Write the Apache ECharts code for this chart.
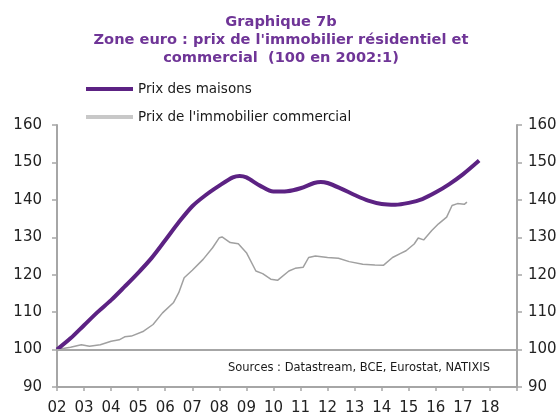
<!DOCTYPE html>
<html>
<head>
<meta charset="utf-8">
<script src="https://cdn.jsdelivr.net/npm/echarts@6/dist/echarts.min.js"></script>
<style>
  html, body { margin: 0; padding: 0; background: #fff; }
  #chart { width: 560px; height: 416px; }
</style>
</head>
<body>
<div id="chart"></div>
<script>
// Prix des maisons (100 en 2002:1)
const houseYears = [2002, 2002.5, 2003, 2003.5, 2004, 2004.5, 2005, 2005.5, 2006, 2006.5, 2007, 2007.5, 2008, 2008.5, 2008.75, 2009, 2009.5, 2010, 2010.5, 2011, 2011.5, 2011.75, 2012, 2012.5, 2013, 2013.5, 2014, 2014.5, 2015, 2015.5, 2016, 2016.5, 2017, 2017.6];
const houseValues = [100, 103, 106.5, 110, 113.2, 116.8, 120.5, 124.5, 129.2, 134, 138.3, 141.3, 143.8, 146, 146.4, 146, 143.8, 142.2, 142.3, 143.1, 144.5, 144.8, 144.5, 143, 141.3, 139.8, 138.9, 138.7, 139.2, 140.2, 142, 144.2, 146.8, 150.5];

// Prix de l'immobilier commercial
const commYears = [2002, 2002.5, 2002.9, 2003.2, 2003.6, 2004, 2004.3, 2004.5, 2004.75, 2005.2, 2005.55, 2005.9, 2006.3, 2006.5, 2006.7, 2007, 2007.4, 2007.75, 2008, 2008.1, 2008.4, 2008.7, 2009, 2009.35, 2009.6, 2009.9, 2010.15, 2010.57, 2010.8, 2011.1, 2011.3, 2011.55, 2012, 2012.4, 2012.8, 2013.3, 2013.75, 2014.06, 2014.4, 2014.7, 2014.9, 2015.2, 2015.35, 2015.55, 2015.85, 2016.1, 2016.4, 2016.6, 2016.8, 2017.05, 2017.15];
const commValues = [100, 100.6, 101.3, 100.9, 101.3, 102.2, 102.6, 103.4, 103.6, 104.9, 106.7, 109.8, 112.5, 115.2, 119.2, 121.2, 124.1, 127.2, 129.9, 130.1, 128.6, 128.3, 125.9, 121, 120.3, 118.8, 118.5, 121, 121.7, 122, 124.6, 125, 124.6, 124.4, 123.5, 122.8, 122.6, 122.5, 124.6, 125.7, 126.4, 128.2, 129.8, 129.3, 131.8, 133.6, 135.4, 138.5, 139, 138.8, 139.4];

const yTicks = { min: 90, max: 160, step: 10 };
const titleLines = ['Graphique 7b', "Zone euro : prix de l'immobilier résidentiel et", 'commercial  (100 en 2002:1)'];
const sourceText = 'Sources : Datastream, BCE, Eurostat, NATIXIS';

const purple = '#5c2283';
const titleColor = '#6f3597';
const axisGray = '#a6a6a6';
const font = 'DejaVu Sans, sans-serif';

const chart = echarts.init(document.getElementById('chart'));

const yAxisBase = {
  type: 'value',
  min: yTicks.min,
  max: yTicks.max,
  interval: yTicks.step,
  splitLine: { show: false },
  axisLine: { show: true, lineStyle: { color: axisGray, width: 2 } },
  axisTick: { show: true, length: 5, lineStyle: { color: axisGray, width: 1.5 } },
  axisLabel: { color: '#222', fontSize: 15, fontFamily: font }
};

// title lines, centred on the page
const titleGraphics = titleLines.map((t, i) => ({
  type: 'text',
  x: 281,
  y: 22 + i * 18,
  style: {
    text: t, fill: titleColor, font: 'bold 14.6px ' + font,
    align: 'center', verticalAlign: 'middle'
  }
}));

const option = {
  animation: false,
  grid: { left: 57, right: 43, top: 125, bottom: 29, containLabel: false },
  graphic: titleGraphics.concat([
    {
      type: 'text', x: 490, y: 368,
      style: {
        text: sourceText, fill: '#1a1a1a', font: '11.5px ' + font,
        align: 'right', verticalAlign: 'middle'
      }
    }
  ]),
  legend: {
    orient: 'vertical',
    left: 81,
    top: 77,
    itemWidth: 47,
    itemHeight: 4,
    itemGap: 14,
    textStyle: { color: '#1a1a1a', fontSize: 13.5, fontFamily: font },
    data: [
      { name: 'Prix des maisons', icon: 'rect', itemStyle: { color: purple } },
      { name: "Prix de l'immobilier commercial", icon: 'rect', itemStyle: { color: '#c8c8c8' } }
    ],
    selectedMode: false
  },
  xAxis: {
    type: 'value',
    min: 2002,
    max: 2019,
    interval: 1,
    splitLine: { show: false },
    axisLine: { lineStyle: { color: axisGray, width: 2 } },
    axisTick: { show: true, length: 4, lineStyle: { color: axisGray, width: 1.5 } },
    axisLabel: {
      color: '#222', fontSize: 15, fontFamily: font, margin: 14,
      formatter: v => (v >= 2019 ? '' : String(v).slice(2))
    }
  },
  yAxis: [
    Object.assign({}, yAxisBase, { position: 'left', axisLabel: Object.assign({}, yAxisBase.axisLabel, { margin: 15 }) }),
    Object.assign({}, yAxisBase, { position: 'right', axisLabel: Object.assign({}, yAxisBase.axisLabel, { margin: 11 }) })
  ],
  series: [
    {
      name: 'Prix des maisons',
      type: 'line',
      smooth: 0.3,
      showSymbol: false,
      data: houseYears.map((y, i) => [y, houseValues[i]]),
      lineStyle: { color: purple, width: 4 },
      itemStyle: { color: purple },
      z: 3,
      markLine: {
        silent: true,
        symbol: 'none',
        label: { show: false },
        lineStyle: { color: axisGray, width: 2, type: 'solid' },
        data: [{ yAxis: 100 }]
      }
    },
    {
      name: "Prix de l'immobilier commercial",
      type: 'line',
      showSymbol: false,
      data: commYears.map((y, i) => [y, commValues[i]]),
      lineStyle: { color: '#a0a0a0', width: 1.5 },
      itemStyle: { color: '#c8c8c8' },
      z: 2
    }
  ]
};

chart.setOption(option);
</script>
</body>
</html>
